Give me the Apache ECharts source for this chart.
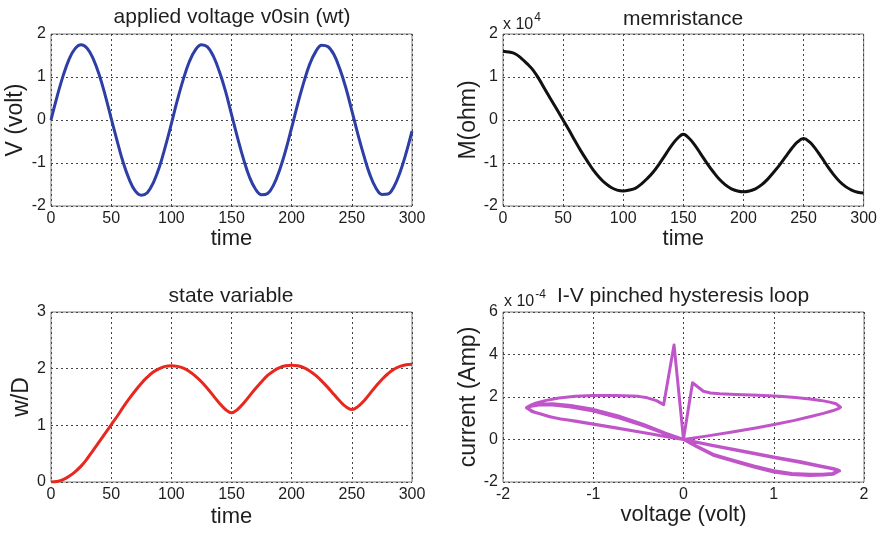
<!DOCTYPE html>
<html>
<head>
<meta charset="utf-8">
<script src="https://cdn.jsdelivr.net/npm/echarts@6/dist/echarts.min.js"></script>
<style>
    html, body { margin: 0; padding: 0; background: #fff; }
    .chart { width: 880px; height: 534px; }
</style>
</head>
<body>
<div class="chart"></div>
<script>
// time samples (every 5 units)
let timeSteps = [0, 5, 10, 15, 20, 25, 30, 35, 40, 45, 50, 55, 60, 65, 70, 75, 80, 85, 90, 95, 100,
    105, 110, 115, 120, 125, 130, 135, 140, 145, 150, 155, 160, 165, 170, 175, 180, 185, 190, 195, 200,
    205, 210, 215, 220, 225, 230, 235, 240, 245, 250, 255, 260, 265, 270, 275, 280, 285, 290, 295, 300];

// applied voltage (volt)
let voltage = [0, 0.54, 1.02, 1.41, 1.66, 1.75, 1.67, 1.43, 1.06, 0.58, 0.04, -0.49, -0.99, -1.38, -1.65, -1.75, -1.69, -1.46, -1.10, -0.62, -0.09,
    0.46, 0.95, 1.36, 1.63, 1.75, 1.70, 1.48, 1.12, 0.67, 0.13, -0.41, -0.91, -1.33, -1.61, -1.74, -1.71, -1.51, -1.16, -0.71, -0.18,
    0.37, 0.87, 1.30, 1.59, 1.74, 1.71, 1.53, 1.19, 0.75, 0.22, -0.33, -0.83, -1.27, -1.58, -1.73, -1.72, -1.55, -1.22, -0.78, -0.26];

// memristance, in units of 1e4 ohm
let memristance = [1.60, 1.58, 1.54, 1.44, 1.31, 1.16, 0.95, 0.71, 0.47, 0.24, 0.00, -0.24, -0.49, -0.73, -0.95, -1.16, -1.33, -1.47, -1.57, -1.63, -1.65,
    -1.63, -1.59, -1.49, -1.36, -1.21, -1.02, -0.81, -0.60, -0.43, -0.33, -0.43, -0.60, -0.81, -1.02, -1.21, -1.38, -1.51, -1.60, -1.65, -1.67,
    -1.65, -1.60, -1.51, -1.38, -1.22, -1.05, -0.86, -0.67, -0.51, -0.43, -0.51, -0.67, -0.87, -1.08, -1.27, -1.43, -1.55, -1.63, -1.68, -1.70];

// state variable w/D
let stateVar = [0.00, 0.01, 0.04, 0.10, 0.18, 0.28, 0.41, 0.56, 0.71, 0.86, 1.01, 1.16, 1.32, 1.47, 1.61, 1.74, 1.85, 1.94, 2.00, 2.04, 2.05,
    2.04, 2.01, 1.95, 1.87, 1.77, 1.65, 1.52, 1.39, 1.28, 1.22, 1.28, 1.39, 1.52, 1.65, 1.77, 1.88, 1.96, 2.02, 2.05, 2.06,
    2.05, 2.02, 1.96, 1.88, 1.78, 1.67, 1.55, 1.43, 1.33, 1.28, 1.33, 1.43, 1.56, 1.69, 1.81, 1.91, 1.99, 2.04, 2.07, 2.08];

// I-V loop, traced in time order (voltage in volt, current in units of 1e-4 A)
let loopVoltage = [0, 0.27, 0.54, 0.80, 1.02, 1.23, 1.41, 1.55, 1.65, 1.71, 1.74, 1.73, 1.69, 1.62, 1.52, 1.40, 1.24, 1.06, 0.83, 0.58, 0.40, 0.30, 0.22, 0.10, 0.00,
    -0.105, -0.22, -0.30, -0.40, -0.50, -0.75, -1.00, -1.20, -1.38, -1.52, -1.63, -1.70, -1.74, -1.73, -1.68, -1.60, -1.49, -1.37, -1.20, -1.00, -0.75, -0.50, -0.25, 0.00,
    0.33, 0.70, 1.00, 1.30, 1.52, 1.66, 1.73, 1.73, 1.66, 1.55, 1.40, 1.20, 1.00, 0.78, 0.55, 0.33, 0.14, 0.00,
    -0.20, -0.45, -0.70, -1.00, -1.25, -1.45, -1.60, -1.70, -1.74, -1.72, -1.66, -1.58, -1.48, -1.36, -1.20, -1.00, -0.75, -0.50, -0.25, 0.00,
    0.33, 0.70, 1.00, 1.30, 1.52, 1.66, 1.72, 1.72, 1.65, 1.54, 1.40, 1.20, 1.00, 0.78, 0.55, 0.33, 0.14, 0.00,
    -0.20, -0.45, -0.70, -1.00, -1.25, -1.45, -1.60, -1.69, -1.73, -1.71, -1.65, -1.57, -1.47, -1.36, -1.20, -1.00, -0.75, -0.50, -0.26];
let loopCurrent = [0, 0.17, 0.35, 0.54, 0.72, 0.90, 1.08, 1.23, 1.35, 1.44, 1.52, 1.60, 1.68, 1.76, 1.84, 1.91, 1.98, 2.04, 2.08, 2.12, 2.15, 2.19, 2.27, 2.67, 0.02,
    4.45, 1.64, 1.83, 1.96, 2.03, 2.07, 2.07, 2.03, 1.95, 1.84, 1.72, 1.60, 1.50, 1.42, 1.32, 1.22, 1.08, 0.97, 0.87, 0.73, 0.55, 0.37, 0.18, 0.00,
    -0.30, -0.60, -0.85, -1.08, -1.27, -1.39, -1.47, -1.56, -1.63, -1.67, -1.69, -1.65, -1.53, -1.30, -1.02, -0.74, -0.33, 0.00,
    0.30, 0.72, 1.08, 1.42, 1.60, 1.68, 1.66, 1.58, 1.49, 1.40, 1.30, 1.20, 1.07, 0.96, 0.87, 0.73, 0.55, 0.37, 0.18, 0.00,
    -0.28, -0.58, -0.82, -1.05, -1.24, -1.36, -1.44, -1.53, -1.60, -1.63, -1.64, -1.60, -1.47, -1.25, -0.97, -0.70, -0.30, 0.00,
    0.27, 0.66, 1.00, 1.34, 1.53, 1.62, 1.62, 1.56, 1.47, 1.38, 1.28, 1.18, 1.06, 0.97, 0.86, 0.72, 0.54, 0.36, 0.19];

(function() {
    let chartDom = document.querySelector('.chart');
    let myChart = echarts.init(chartDom);

    let font = '"Liberation Sans", Arial, sans-serif';
    let txt = '#1e1e1e';

    function pairs(xs, ys) {
        return xs.map(function(x, i) { return [x, ys[i]]; });
    }

    // matlab-like boxed axis (x and y share everything but the name size)
    function ax(idx, min, max, interval, name, gap, nameSize) {
        return {
            type: 'value', gridIndex: idx, min: min, max: max, interval: interval,
            name: name, nameLocation: 'middle', nameGap: gap,
            nameTextStyle: { fontFamily: font, fontSize: nameSize, color: txt },
            axisLine: { show: false },
            axisTick: { show: false },
            axisLabel: { fontFamily: font, fontSize: 16, color: txt, margin: 5 },
            splitLine: { show: true, lineStyle: { color: '#444', type: [2, 3], width: 1 } }
        };
    }

    function gridBox(left, top, h) {
        return { left: left, top: top, width: 361, height: h, show: true, borderColor: '#7a7a7a', borderWidth: 1, backgroundColor: 'transparent' };
    }

    function titleText(x, y, text) {
        return {
            type: 'text', x: x, y: y,
            style: { text: text, fill: txt, font: '21px ' + font, align: 'center', verticalAlign: 'middle' }
        };
    }

    // "x 10^n" multiplier above the y axis
    function expText(x, y, power) {
        return {
            type: 'text', x: x, y: y,
            style: {
                text: '{a|x 10}{b|' + power + '}', verticalAlign: 'bottom',
                rich: {
                    a: { font: '16px ' + font, fill: txt, verticalAlign: 'bottom' },
                    b: { font: '12px ' + font, fill: txt, verticalAlign: 'top', padding: [0, 0, 9, 1] }
                }
            }
        };
    }

    let option = {
        animation: false,
        backgroundColor: '#fff',
        grid: [
            gridBox(51, 34, 172),
            gridBox(503, 34, 172),
            gridBox(51, 312, 170),
            gridBox(503, 312, 170)
        ],
        xAxis: [
            ax(0, 0, 300, 50, 'time', 22, 22),
            ax(1, 0, 300, 50, 'time', 22, 22),
            ax(2, 0, 300, 50, 'time', 24, 22),
            ax(3, -2, 2, 1, 'voltage (volt)', 22, 22)
        ],
        yAxis: [
            ax(0, -2, 2, 1, 'V (volt)', 24, 23),
            ax(1, -2, 2, 1, 'M(ohm)', 19, 23),
            ax(2, 0, 3, 1, 'w/D', 14, 23),
            ax(3, -2, 6, 2, 'current (Amp)', 18, 23)
        ],
        graphic: [
            titleText(232, 17, 'applied voltage v0sin (wt)'),
            titleText(683, 19, 'memristance'),
            titleText(231, 296, 'state variable'),
            titleText(683, 296, 'I-V pinched hysteresis loop'),
            expText(503, 33, '4'),
            expText(504, 310, '-4')
        ],
        series: [{
                type: 'line', xAxisIndex: 0, yAxisIndex: 0,
                data: pairs(timeSteps, voltage),
                smooth: 0.4, showSymbol: false,
                lineStyle: { color: '#2d3ea6', width: 3 }
            },
            {
                type: 'line', xAxisIndex: 1, yAxisIndex: 1,
                data: pairs(timeSteps, memristance),
                smooth: 0.4, showSymbol: false,
                lineStyle: { color: '#111', width: 3 }
            },
            {
                type: 'line', xAxisIndex: 2, yAxisIndex: 2,
                data: pairs(timeSteps, stateVar),
                smooth: 0.4, showSymbol: false,
                lineStyle: { color: '#e8281e', width: 3 }
            },
            {
                type: 'line', xAxisIndex: 3, yAxisIndex: 3,
                data: pairs(loopVoltage, loopCurrent),
                smooth: false, showSymbol: false,
                lineStyle: { color: '#bf55c8', width: 3, join: 'round' }
            }
        ]
    };
    myChart.setOption(option);
})();
</script>
</body>
</html>
